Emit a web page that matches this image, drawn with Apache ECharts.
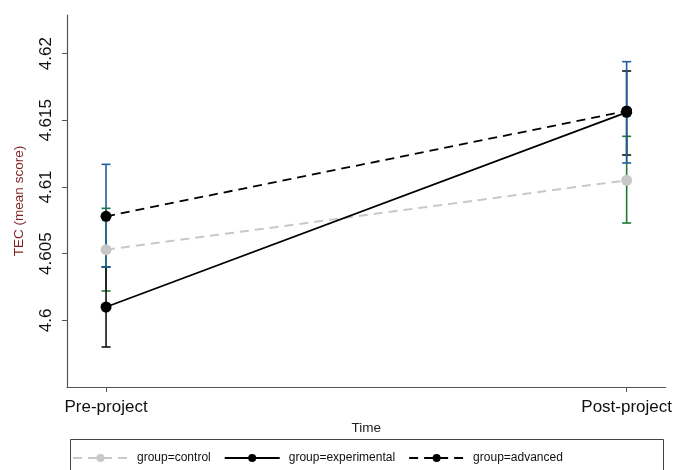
<!DOCTYPE html>
<html>
<head>
<meta charset="utf-8">
<script src="https://cdn.jsdelivr.net/npm/echarts@6/dist/echarts.min.js"></script>
<style>html,body{margin:0;padding:0;background:#fff;}#c{width:675px;height:470px;}</style>
</head>
<body>
<div id="c"></div>
<script>
const categories = ['Pre-project', 'Post-project'];
const yTicks = [4.6, 4.605, 4.61, 4.615, 4.62];

const controlMean = [4.6053, 4.6105];
const controlLo = [4.6022, 4.6073];
const controlHi = [4.6084, 4.6138];

const experimentalMean = [4.6010, 4.6156];
const experimentalLo = [4.5980, 4.6124];
const experimentalHi = [4.6040, 4.6187];

const advancedMean = [4.6078, 4.6157];
const advancedLo = [4.6040, 4.6118];
const advancedHi = [4.6117, 4.6194];

const FONT = '"Liberation Sans", Arial, sans-serif';

function pts(arr) { return arr.map((v, i) => [i, v]); }
function bars(lo, hi) { return lo.map((v, i) => [i, v, hi[i]]); }

function errRender(color) {
  return function (params, api) {
    const x = api.value(0);
    const a = api.coord([x, api.value(1)]);
    const b = api.coord([x, api.value(2)]);
    const w = 4.5;
    const st = { stroke: color, lineWidth: 1.6, fill: null };
    return {
      type: 'group',
      children: [
        { type: 'line', shape: { x1: a[0], y1: a[1], x2: b[0], y2: b[1] }, style: st },
        { type: 'line', shape: { x1: a[0] - w, y1: a[1], x2: a[0] + w, y2: a[1] }, style: st },
        { type: 'line', shape: { x1: b[0] - w, y1: b[1], x2: b[0] + w, y2: b[1] }, style: st }
      ]
    };
  };
}

const chart = echarts.init(document.getElementById('c'), null, { renderer: 'canvas' });
chart.setOption({
  animation: false,
  backgroundColor: '#fff',
  textStyle: { fontFamily: FONT },
  grid: { left: 67, right: 7, top: 15, bottom: 83, containLabel: false },
  xAxis: {
    type: 'value', min: -0.075, max: 1.075,
    name: 'Time', nameLocation: 'middle', nameGap: 31,
    nameTextStyle: { fontFamily: FONT, fontSize: 13.5, color: '#222' },
    axisLine: { show: true, onZero: false, lineStyle: { color: '#555', width: 1.2 } },
    axisTick: { show: true, length: 5, customValues: [0, 1], lineStyle: { color: '#555' } },
    axisLabel: { customValues: [0, 1], formatter: v => categories[Math.round(v)], fontFamily: FONT, fontSize: 17, color: '#111', margin: 12 },
    splitLine: { show: false }
  },
  yAxis: {
    type: 'value', min: 4.595, max: 4.6229,
    name: 'TEC (mean score)', nameLocation: 'middle', nameGap: 41,
    nameTextStyle: { fontFamily: FONT, fontSize: 13.5, color: '#7f1f1f' },
    axisLine: { show: true, onZero: false, lineStyle: { color: '#555', width: 1.2 } },
    axisTick: { show: true, length: 5, customValues: yTicks, lineStyle: { color: '#555' } },
    axisLabel: { customValues: yTicks, rotate: 90, fontFamily: FONT, fontSize: 17, color: '#111', margin: 12, formatter: v => String(+v.toFixed(3)) },
    splitLine: { show: false }
  },
  legend: {
    left: 67, top: 447, itemWidth: 55, itemHeight: 10, itemGap: 13,
    textStyle: { fontFamily: FONT, fontSize: 12, color: '#111', padding: [0, 0, 0, 4] },
    data: ['group=control', 'group=experimental', 'group=advanced']
  },
  graphic: [
    { type: 'rect', shape: { x: 70.5, y: 439.5, width: 593, height: 60 }, style: { fill: null, stroke: '#444', lineWidth: 1 }, silent: true }
  ],
  series: [
    { type: 'custom', name: 'ci-control', renderItem: errRender('#1f7a2e'), data: bars(controlLo, controlHi), z: 2, encode: { x: 0, y: [1, 2] } },
    { type: 'custom', name: 'ci-experimental', renderItem: errRender('#111'), data: bars(experimentalLo, experimentalHi), z: 2, encode: { x: 0, y: [1, 2] } },
    { type: 'custom', name: 'ci-advanced', renderItem: errRender('#1f5f9f'), data: bars(advancedLo, advancedHi), z: 2, encode: { x: 0, y: [1, 2] } },
    { type: 'line', name: 'group=control', data: pts(controlMean), z: 3, symbol: 'circle', symbolSize: 11,
      itemStyle: { color: '#c8c8c8' }, lineStyle: { color: '#c8c8c8', width: 2, type: [9, 6] } },
    { type: 'line', name: 'group=experimental', data: pts(experimentalMean), z: 4, symbol: 'circle', symbolSize: 11,
      itemStyle: { color: '#000' }, lineStyle: { color: '#000', width: 1.8, type: 'solid' } },
    { type: 'line', name: 'group=advanced', data: pts(advancedMean), z: 5, symbol: 'circle', symbolSize: 11,
      itemStyle: { color: '#000' }, lineStyle: { color: '#000', width: 1.8, type: [9, 6] } }
  ]
});
</script>
</body>
</html>
